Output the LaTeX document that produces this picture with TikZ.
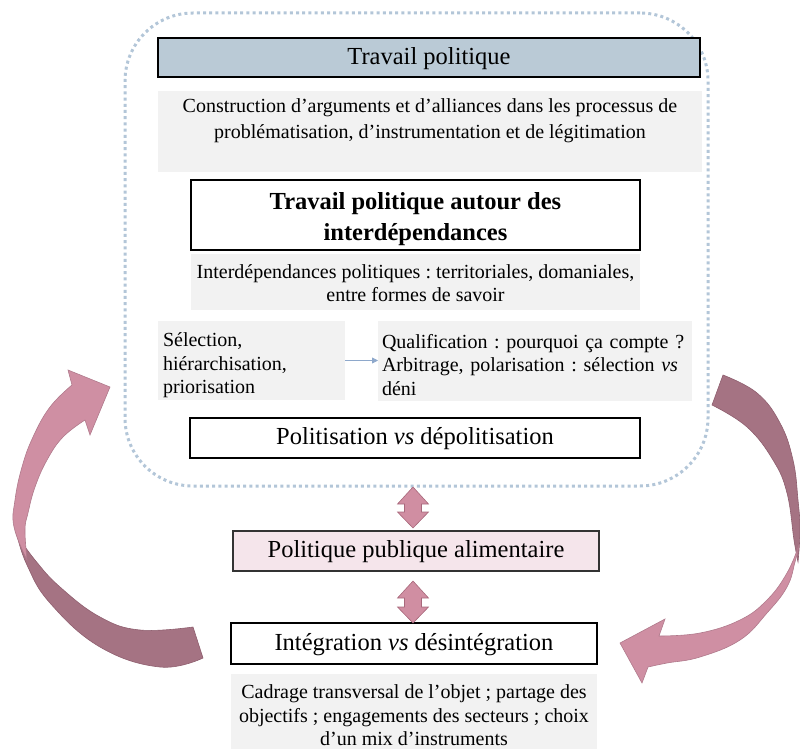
\documentclass[tikz,border=0pt]{standalone}
\usepackage{fontspec}
\setmainfont{Liberation Serif}
\usetikzlibrary{arrows.meta}
\frenchspacing
\definecolor{greyF}{HTML}{F2F2F2}
\definecolor{titleblue}{HTML}{BACAD6}
\definecolor{dotblue}{HTML}{B3C6D8}
\definecolor{pinkbox}{HTML}{F5E5EB}
\definecolor{blockpink}{HTML}{D08EA2}
\definecolor{blockedge}{HTML}{A8687B}
\definecolor{lightarr}{HTML}{CF8FA3}
\definecolor{lightedge}{HTML}{B07A8C}
\definecolor{darkarr}{HTML}{A57383}
\definecolor{darkedge}{HTML}{8E5E6E}
\definecolor{smallarrow}{HTML}{8EA8CB}
\newcommand\udarrow[3]{%
  \filldraw[blockarrow] (#1,#2) -- (#1+15.5,#2+17) -- (#1+8.5,#2+17) -- (#1+8.5,#3-16)
   -- (#1+15.5,#3-16) -- (#1,#3) -- (#1-15.5,#3-16) -- (#1-8.5,#3-16) -- (#1-8.5,#2+17)
   -- (#1-15.5,#2+17) -- cycle;}
\newcommand\topstrut[1]{\rule{0pt}{#1}}
\begin{document}
\begin{tikzpicture}[x=1pt,y=-1pt,
  every node/.style={inner sep=0pt, outer sep=0pt},
  wbox/.style={draw=black, line width=1.3pt, fill=white, align=center,
    font=\fontsize{24.5}{30}\selectfont},
  oneline/.style={text height=18pt, text depth=4.5pt},
  gbox/.style={fill=greyF, align=center, font=\fontsize{20}{23.5}\selectfont},
  gleft/.style={fill=greyF, align=left, font=\fontsize{20}{23.5}\selectfont},
  blockarrow/.style={fill=blockpink, draw=blockedge, line width=0.6pt},
  lightpart/.style={fill=lightarr, draw=lightedge, line width=0.6pt},
  darkpart/.style={fill=darkarr, draw=darkedge, line width=0.6pt},
]
\useasboundingbox (0,0) rectangle (800,749);

% curved arrows (drawn first)
\filldraw[darkpart] plot[smooth, tension=0.7] coordinates {(17,535) (27,565) (50,603) (100,647) (160,667) (203,658)}
  -- (193,627) -- plot[smooth, tension=0.7] coordinates {(193,627) (140,630) (100,617) (60,587) (35,560) (17,535)} -- cycle;
\filldraw[lightpart] (110,387) -- (68,370) -- plot[smooth, tension=0.7] coordinates {(72,385) (50,407) (33,437) (22,467) (15,500) (14,527) (27,560)}
  -- plot[smooth, tension=0.7] coordinates {(27,560) (25,530) (28,513) (35,487) (47,460) (63,437) (85,420)} -- (90,435) -- cycle;

\filldraw[darkpart] plot[smooth, tension=0.7] coordinates {(723,375) (757,393) (780,423) (793,460) (798,500) (800,530) (798,562)}
  -- plot[smooth, tension=0.7] coordinates {(798,562) (794,540) (787,493) (773,460) (747,427) (712,405)} -- cycle;
\filldraw[lightpart] plot[smooth, tension=0.7] coordinates {(799,545) (795,562) (787,587) (767,613) (740,640) (700,657) (667,663) (648,667)}
  -- (642,683) -- (620,643) -- (665,619)
  -- plot[smooth, tension=0.7] coordinates {(659,636) (700,633) (740,620) (767,600) (787,573) (799,545)} -- cycle;

% dotted frame
\node[draw=dotblue, line width=3pt, dash pattern=on 3pt off 3.2pt, rounded corners=68pt,
  minimum width=583pt, minimum height=473pt] (frame) at (416.5,249.5) {};

% boxes
\node[wbox, oneline, fill=titleblue, minimum width=542pt, minimum height=39pt] (tp) at (429,57.5) {Travail politique};
\node[gbox] (constr) at (430,131.5) {\parbox[c][81pt][t]{544pt}{\centering\fontsize{20}{26}\selectfont\vspace*{8pt}%
  Construction d’arguments et d’alliances dans les processus de\\
  problématisation, d’instrumentation et de légitimation}};
\node[wbox, font=\fontsize{24.5}{31}\selectfont\bfseries, minimum width=449pt, minimum height=70pt] (tpi) at (415.5,215)
  {\topstrut{25pt}Travail politique autour des\\interdépendances};
\node[gbox, minimum width=449pt, minimum height=56pt] (interd) at (415.5,282)
  {\topstrut{16pt}Interdépendances politiques : territoriales, domaniales,\\entre formes de savoir};
\node[gleft, minimum width=187pt, minimum height=79pt, text width=177pt] (sel) at (251.5,360.5)
  {\topstrut{24pt}Sélection,\\hiérarchisation,\\priorisation};
\node[gleft, minimum width=314pt, minimum height=80pt, text width=306pt] (qual) at (535,360.5)
  {\topstrut{23pt}Qualification : pourquoi ça compte ?\\Arbitrage, polarisation : sélection \textit{vs}\\déni};
\draw[smallarrow, line width=0.8pt, -{Triangle[length=6pt,width=6pt]}] (sel.east) -- (qual.west);
\node[wbox, oneline, minimum width=450pt, minimum height=40pt] (polit) at (415,438) {Politisation \textit{vs} dépolitisation};

\node[wbox, oneline, fill=pinkbox, draw=black!80, minimum width=366pt, minimum height=40pt] (ppa) at (416,551) {Politique publique alimentaire};
\node[wbox, oneline, minimum width=366pt, minimum height=41pt] (integ) at (414,643.5) {Intégration \textit{vs} désintégration};
\node[gbox, minimum width=366pt, minimum height=75pt] (cadr) at (414,711.5)
  {\topstrut{22pt}Cadrage transversal de l’objet ; partage des\\objectifs ; engagements des secteurs ; choix\\d’un mix d’instruments};

% block double arrows
\udarrow{413}{487}{528}
\udarrow{413}{581}{623}
\end{tikzpicture}
\end{document}
